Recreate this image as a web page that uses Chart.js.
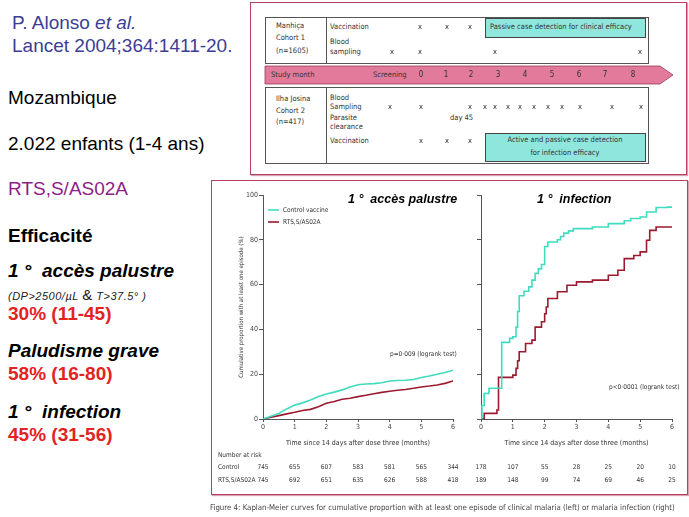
<!DOCTYPE html>
<html>
<head>
<meta charset="utf-8">
<script src="https://cdn.jsdelivr.net/npm/chart.js@4.4.1/dist/chart.umd.min.js"></script>
<style>
  body { margin: 0; background: #fff; }
  #page { position: relative; width: 689px; height: 517px; overflow: hidden; font-family: "Liberation Sans", Arial, sans-serif; }
  .t { position: absolute; white-space: nowrap; line-height: 1; transform: translateY(-50%); }
  .n { font-family: "Liberation Sans Narrow", "DejaVu Sans Condensed", "Liberation Sans", sans-serif; color: #333; font-size: 7.5px; }
  .box { position: absolute; border: 1px solid #555; box-sizing: border-box; }
  .frame { position: absolute; border: 1.5px solid #b8405e; box-sizing: border-box; box-shadow: 1px 1px 1px #d8a0b0; }
  .teal { position: absolute; background: #8fe6dc; border: 1px solid #444; box-sizing: border-box; }
  .big { font-size: 19px; }
  .b { font-weight: bold; }
  .bi { font-weight: bold; font-style: italic; font-size: 19px; }
  .red { color: #e3231f; font-weight: bold; font-size: 19px; }
  .cv { position: absolute; }
</style>
</head>
<body>
<div id="page">
  <!-- left column text -->
  <div class="t big" style="left:12px;top:22px;color:#3d3d95">P. Alonso <i>et al.</i></div>
  <div class="t big" style="left:12px;top:45px;color:#3d3d95">Lancet 2004;364:1411-20.</div>
  <div class="t big" style="left:8px;top:97px">Mozambique</div>
  <div class="t big" style="left:8px;top:143px">2.022 enfants (1-4 ans)</div>
  <div class="t big" style="left:8px;top:188px;color:#8c1e86">RTS,S/AS02A</div>
  <div class="t big b" style="left:8px;top:235px">Efficacité</div>
  <div class="t bi" style="left:8px;top:270px">1 °&nbsp;&nbsp;accès palustre</div>
  <div class="t" style="left:8px;top:294px;font-size:11px;font-style:italic;letter-spacing:0.5px;color:#222">(DP&gt;2500/µL <span style="font-size:15px;font-style:normal">&amp;</span> T&gt;37.5° )</div>
  <div class="t red" style="left:8px;top:313px">30% (11-45)</div>
  <div class="t bi" style="left:8px;top:350px">Paludisme grave</div>
  <div class="t red" style="left:8px;top:373px">58% (16-80)</div>
  <div class="t bi" style="left:8px;top:411px">1 °&nbsp;&nbsp;infection</div>
  <div class="t red" style="left:8px;top:434px">45% (31-56)</div>

  <!-- study design frame -->
  <div class="frame" style="left:250px;top:2px;width:437px;height:173px"></div>
  <div class="box" style="left:265px;top:17px;width:384px;height:47px"></div>
  <div class="box" style="left:326px;top:17px;width:0;height:47px;border-width:0 0 0 1px"></div>
  <div class="teal" style="left:485px;top:18px;width:161px;height:20px"></div>
  <div class="t n" style="left:276px;top:26px">Manhiça</div>
  <div class="t n" style="left:276px;top:38px">Cohort 1</div>
  <div class="t n" style="left:276px;top:51px">(n=1605)</div>
  <div class="t n" style="left:330px;top:27px">Vaccination</div>
  <div class="t n" style="left:330px;top:42px">Blood</div>
  <div class="t n" style="left:330px;top:52px">sampling</div>
  <div class="t n" style="left:490px;top:27px">Passive case detection for clinical efficacy</div>

  <svg style="position:absolute;left:0;top:0" width="689" height="175">
    <polygon points="265,66 660,66 673,75 660,84 265,84" fill="#e27a9c" stroke="#9a3a5a" stroke-width="0.8"/>
  </svg>
  <div class="t n" style="left:271px;top:75px">Study month</div>
  <div class="t n" style="left:373px;top:75px">Screening</div>

  <div class="box" style="left:265px;top:87px;width:384px;height:77px"></div>
  <div class="box" style="left:326px;top:87px;width:0;height:77px;border-width:0 0 0 1px"></div>
  <div class="teal" style="left:485px;top:133px;width:161px;height:29px"></div>
  <div class="t n" style="left:276px;top:99px">Ilha Josina</div>
  <div class="t n" style="left:276px;top:111px">Cohort 2</div>
  <div class="t n" style="left:276px;top:122px">(n=417)</div>
  <div class="t n" style="left:330px;top:98px">Blood</div>
  <div class="t n" style="left:330px;top:107px">Sampling</div>
  <div class="t n" style="left:330px;top:118px">Parasite</div>
  <div class="t n" style="left:330px;top:127px">clearance</div>
  <div class="t n" style="left:450px;top:118px">day 45</div>
  <div class="t n" style="left:330px;top:141px">Vaccination</div>
  <div class="t n" style="left:565px;top:140px;transform:translate(-50%,-50%)">Active and passive case detection</div>
  <div class="t n" style="left:565px;top:153px;transform:translate(-50%,-50%)">for infection efficacy</div>

  <!-- Kaplan-Meier frame -->
  <div class="frame" style="left:211px;top:180px;width:477px;height:315px"></div>
  <div class="cv" style="left:238px;top:185px;width:224px;height:262px"><canvas id="clin"></canvas></div>
  <div class="cv" style="left:462px;top:185px;width:222px;height:262px"><canvas id="inf"></canvas></div>
  <div class="t" style="left:348px;top:199px;font-size:12.5px;font-weight:bold;font-style:italic">1 °&nbsp;&nbsp;accès palustre</div>
  <div class="t" style="left:537px;top:199px;font-size:12.5px;font-weight:bold;font-style:italic">1 °&nbsp;&nbsp;infection</div>
  <svg style="position:absolute;left:0;top:0" width="689" height="517">
    <line x1="268" y1="210" x2="279" y2="210" stroke="#3fdcc0" stroke-width="1.6"/>
    <line x1="268" y1="222" x2="279" y2="222" stroke="#9b1a30" stroke-width="1.6"/>
  </svg>
  <div class="t n" style="left:283px;top:210px;font-size:6.5px">Control vaccine</div>
  <div class="t n" style="left:283px;top:222px;font-size:6.5px">RTS,S/AS02A</div>
  <div class="t n" style="left:390px;top:354px;font-size:6.5px">p=0·009 (logrank test)</div>
  <div class="t n" style="left:609px;top:387px;font-size:6.5px">p&lt;0·0001 (logrank test)</div>
  <div class="t n" style="left:218px;top:455px;font-size:6.5px">Number at risk</div>
  <div class="t n" style="left:218px;top:467px;font-size:6.5px">Control</div>
  <div class="t n" style="left:218px;top:480px;font-size:6.5px">RTS,S/AS02A</div>
  <div class="t n" style="left:210px;top:508px;font-size:7.8px;color:#444">Figure 4: Kaplan-Meier curves for cumulative proportion with at least one episode of clinical malaria (left) or malaria infection (right)</div>
</div>

<script>
// study design
const studyMonths = ['0', '1', '2', '3', '4', '5', '6', '7', '8'];
const monthX = [421, 446, 471, 498, 525, 552, 579, 605, 633];
const c1VaccX = [420, 447, 470];
const c1BloodX = [392, 420, 495, 640];
const c2BloodX = [390, 421, 470, 485, 495, 508, 520, 534, 548, 562, 580, 612, 641];
const c2VaccX = [421, 447, 470];

// clinical malaria (left)
const clinTime = [0, 0.25, 0.5, 0.75, 1, 1.25, 1.5, 1.75, 2, 2.25, 2.5, 2.75, 3, 3.25, 3.5, 3.75, 4, 4.25, 4.5, 4.75, 5, 5.25, 5.5, 5.75, 6];
const clinControl = [0, 1.2, 2.5, 4.5, 6.2, 7.2, 8.5, 10, 11.2, 12, 13, 14.3, 15.3, 15.6, 15.8, 16.2, 17, 17.2, 17.3, 17.6, 18.5, 19.2, 20, 20.8, 21.8];
const clinRTS = [0, 0.8, 1.5, 2.3, 3, 3.8, 4.3, 5.5, 7, 7.8, 8.8, 9.3, 10, 10.6, 11.3, 11.9, 12.4, 12.8, 13.2, 13.7, 14.3, 14.7, 15.2, 15.9, 17];

// infection (right), step times and values
const infCtrlTime = [0, 0.03, 0.1, 0.25, 0.65, 0.9, 1.0, 1.1, 1.15, 1.2, 1.35, 1.5, 1.6, 1.7, 1.8, 1.9, 2.0, 2.1, 2.4, 2.5, 2.6, 2.75, 2.9, 3.5, 4.0, 4.5, 4.7, 5.0, 5.2, 5.5, 5.85, 6];
const infCtrl = [0, 6, 11.4, 13.7, 34.2, 36, 36.7, 41, 48, 55, 57, 59, 62, 65, 67, 69, 77, 79, 80, 81.5, 83, 84, 85, 85.7, 87.2, 88.5, 89.5, 90.2, 92.4, 94.4, 94.6, 94.6];
const infRTSTime = [0, 0.1, 0.5, 0.55, 1.0, 1.1, 1.15, 1.2, 1.4, 1.6, 1.7, 1.9, 2.0, 2.05, 2.1, 2.4, 2.7, 3.0, 3.5, 4.0, 4.3, 4.5, 4.8, 5.0, 5.2, 5.3, 5.5, 5.8, 6];
const infRTS = [0, 2.5, 4, 18.6, 19.6, 22.6, 26, 30, 33.7, 35.2, 41, 43.4, 47, 50, 53.8, 56.8, 59.7, 61.2, 62, 64.2, 66.4, 71.6, 73, 74.6, 79.8, 84.2, 85.7, 85.7, 86];

// number at risk, months 0..6
const riskClinControl = [745, 655, 607, 583, 581, 565, 344];
const riskClinRTS = [745, 692, 651, 635, 626, 588, 418];
const riskInfControl = [178, 107, 55, 28, 25, 20, 10];
const riskInfRTS = [189, 148, 99, 74, 69, 46, 25];

const page = document.getElementById('page');
function put(text, x, y, size, center) {
  const d = document.createElement('div');
  d.className = 't n';
  d.textContent = text;
  d.style.left = x + 'px';
  d.style.top = y + 'px';
  if (size) d.style.fontSize = size + 'px';
  if (center) d.style.transform = 'translate(-50%,-50%)';
  page.appendChild(d);
}
studyMonths.forEach((m, i) => put(m, monthX[i], 75, 8, true));
c1VaccX.forEach(x => put('x', x, 27, 7.5, true));
c1BloodX.forEach(x => put('x', x, 52, 7.5, true));
c2BloodX.forEach(x => put('x', x, 107, 7.5, true));
c2VaccX.forEach(x => put('x', x, 141, 7.5, true));

const ctrlColor = '#3fdcc0';
const rtsColor = '#9b1a30';
const axisColor = '#555';
const tickFont = { family: '"Liberation Sans Narrow", "DejaVu Sans Condensed", sans-serif', size: 7 };

function pts(xs, ys) {
  return xs.map((x, i) => ({ x: x, y: ys[i] }));
}

function makeOptions(yWidth, rightPad, showY) {
  return {
    responsive: true,
    maintainAspectRatio: false,
    animation: false,
    layout: { padding: { top: 10, right: rightPad, left: 0, bottom: 0 } },
    plugins: { legend: { display: false }, tooltip: { enabled: false } },
    scales: {
      x: {
        type: 'linear', min: 0, max: 6,
        ticks: { stepSize: 1, font: tickFont, color: '#444', padding: 1 },
        grid: { drawOnChartArea: false, tickLength: 3, color: axisColor },
        border: { color: axisColor },
        title: { display: true, text: 'Time since 14 days after dose three (months)', font: tickFont, color: '#333', padding: { top: 2, bottom: 0 } },
        afterFit: s => { s.height = 28; }
      },
      y: {
        min: 0, max: 100,
        ticks: { stepSize: 20, font: tickFont, color: '#444', padding: 1, callback: v => showY ? v : '' },
        grid: { drawOnChartArea: false, tickLength: 4, color: axisColor },
        border: { color: axisColor },
        title: { display: showY, text: 'Cumulative proportion with at least one episode (%)', font: { family: tickFont.family, size: 6 }, color: '#333', padding: 0 },
        afterFit: s => { s.width = yWidth; }
      }
    }
  };
}

const clinChart = new Chart(document.getElementById('clin'), {
  type: 'line',
  data: {
    datasets: [
      { label: 'Control vaccine', data: pts(clinTime, clinControl), borderColor: ctrlColor, borderWidth: 1.6, pointRadius: 0, tension: 0 },
      { label: 'RTS,S/AS02A', data: pts(clinTime, clinRTS), borderColor: rtsColor, borderWidth: 1.6, pointRadius: 0, tension: 0 }
    ]
  },
  options: makeOptions(25, 9, true)
});

const infChart = new Chart(document.getElementById('inf'), {
  type: 'line',
  data: {
    datasets: [
      { label: 'Control vaccine', data: pts(infCtrlTime, infCtrl), borderColor: ctrlColor, borderWidth: 1.6, pointRadius: 0, stepped: true },
      { label: 'RTS,S/AS02A', data: pts(infRTSTime, infRTS), borderColor: rtsColor, borderWidth: 1.6, pointRadius: 0, stepped: true }
    ]
  },
  options: makeOptions(19, 12, false)
});

function riskRow(chart, left, values, y) {
  values.forEach((v, i) => put(String(v), left + chart.scales.x.getPixelForValue(i), y, 6.5, true));
}
riskRow(clinChart, 238, riskClinControl, 467);
riskRow(clinChart, 238, riskClinRTS, 480);
riskRow(infChart, 462, riskInfControl, 467);
riskRow(infChart, 462, riskInfRTS, 480);
</script>
</body>
</html>
